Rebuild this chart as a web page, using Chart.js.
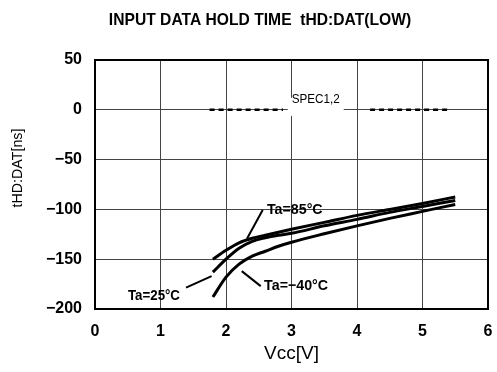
<!DOCTYPE html>
<html><head><meta charset="utf-8">
<script src="https://cdn.jsdelivr.net/npm/chart.js@4.4.1/dist/chart.umd.min.js"></script>
<style>html,body{margin:0;padding:0;background:#fff}#wrap{position:relative;width:497px;height:372px}</style>
</head><body><div id="wrap"><canvas id="c"></canvas></div>
<script>
// ---- data ----
const chartTitle = 'INPUT DATA HOLD TIME  tHD:DAT(LOW)';
const xTitle = 'Vcc[V]';
const yTitle = 'tHD:DAT[ns]';
const vcc  = [1.8, 2.0, 2.2, 2.4, 2.6, 2.8, 3.0, 3.5, 4.0, 4.5, 5.0, 5.5];
const t85  = [-150, -141, -133.5, -129, -126, -123, -120, -113, -106, -100, -94, -87.5];
const t25  = [-163, -150, -139, -132, -128.5, -126, -124, -116.5, -110, -103, -97, -91];
const tm40 = [-188, -168, -155, -147, -142, -137, -133, -124.5, -116.5, -109, -102, -95];
const specValue = 0;
const specSeg1 = [1.75, 2.87];
const specSeg2 = [4.2, 5.42];
const xTicks = [0, 1, 2, 3, 4, 5, 6];
const yTicks = [50, 0, -50, -100, -150, -200];
// annotation labels (data coordinates)
const noteText = ['SPEC1,2', 'Ta=85°C', 'Ta=\u221240°C', 'Ta=25°C'];
const noteX = [3.37, 3.05, 3.07, 0.9];
const noteY = [10, -100, -177, -187.5];
// leader lines [x0, y0, x1, y1] in data units
const lead85 = [2.56, -100.5, 2.32, -129.5];
const leadM40 = [2.24, -162, 2.53, -177];
const lead25 = [1.39, -178.5, 1.78, -167];

// ---- build ----
const pts = (xs, ys) => xs.map((v, i) => ({x: v, y: ys[i]}));
const seg = (a) => [{x: a[0], y: a[1]}, {x: a[2], y: a[3]}];
const curve = (label, ys) => ({label, data: pts(vcc, ys), borderColor: '#000', borderWidth: 3,
  pointRadius: 0, showLine: true, cubicInterpolationMode: 'monotone', fill: false});
const leader = (label, a) => ({label, data: seg(a), borderColor: '#000', borderWidth: 2,
  pointRadius: 0, showLine: true, fill: false});
const spec = (label, s) => ({label, data: [{x: s[0], y: specValue}, {x: s[1], y: specValue}],
  borderColor: '#000', borderWidth: 2.5, borderDash: [5, 4], pointRadius: 0, showLine: true, fill: false});

const FAM = '"Liberation Sans", Arial, sans-serif';
Chart.defaults.font.family = FAM;
Chart.defaults.color = '#000';

function drawText(ctx, txt, cx, cy, font, sx, rot) {
  ctx.save();
  ctx.translate(cx, cy);
  if (rot) ctx.rotate(rot);
  ctx.scale(sx, 1);
  ctx.font = font;
  ctx.fillStyle = '#000';
  ctx.textAlign = 'center';
  ctx.textBaseline = 'middle';
  ctx.fillText(txt, 0, 0);
  ctx.restore();
}

const textPlugin = {
  id: 'texts',
  afterDatasetsDraw(chart) {
    const {ctx, chartArea: a, scales: {x, y}} = chart;
    ctx.save();
    ctx.strokeStyle = '#000';
    ctx.lineWidth = 2;
    ctx.strokeRect(a.left, a.top, a.right - a.left, a.bottom - a.top);
    // chart title
    drawText(ctx, chartTitle, 260, 20, 'bold 17px ' + FAM, 0.92);
    // y axis title
    drawText(ctx, yTitle, 18, 168, '15px ' + FAM, 0.95, -Math.PI / 2);
    // annotations
    const fonts = ['13px ' + FAM, 'bold 15px ' + FAM, 'bold 15px ' + FAM, 'bold 14px ' + FAM];
    const sxs = [0.9, 0.95, 0.95, 0.95];
    noteText.forEach((t, i) => {
      const px = x.getPixelForValue(noteX[i]);
      const py = y.getPixelForValue(noteY[i]);
      if (i === 0) { // white gap behind spec label
        ctx.fillStyle = '#fff';
        ctx.fillRect(px - 28, py - 2, 56, 18);
      }
      drawText(ctx, t, px, py, fonts[i], sxs[i]);
    });
    ctx.restore();
  }
};

new Chart(document.getElementById('c'), {
  type: 'scatter',
  data: {
    datasets: [
      curve('Ta=85°C', t85),
      curve('Ta=25°C', t25),
      curve('Ta=-40°C', tm40),
      spec('SPEC1,2 a', specSeg1),
      spec('SPEC1,2 b', specSeg2),
      leader('lead 85', lead85),
      leader('lead -40', leadM40),
      leader('lead 25', lead25)
    ]
  },
  options: {
    responsive: true,
    maintainAspectRatio: false,
    animation: false,
    layout: {padding: {top: 60, right: 9, left: 0, bottom: 0}},
    plugins: {legend: {display: false}, tooltip: {enabled: false}, title: {display: false}},
    scales: {
      x: {
        type: 'linear', min: 0, max: 6,
        afterBuildTicks: s => { s.ticks = xTicks.map(v => ({value: v})); },
        afterFit: s => { s.height = 63; s.paddingLeft = 0; s.paddingRight = 0; },
        ticks: {font: {size: 16, weight: 'bold'}, padding: 13, color: '#000'},
        grid: {color: '#444', lineWidth: 1, drawTicks: false},
        border: {color: '#000', width: 2},
        title: {display: true, text: xTitle, font: {size: 19}, color: '#000', padding: {top: 0, bottom: 7}}
      },
      y: {
        type: 'linear', min: -200, max: 50,
        afterBuildTicks: s => { s.ticks = yTicks.map(v => ({value: v})); },
        afterFit: s => { s.width = 95; s.paddingTop = 0; s.paddingBottom = 0; },
        ticks: {font: {size: 16, weight: 'bold'}, padding: 13, color: '#000',
          callback: v => String(v).replace('-', '\u2212')},
        grid: {color: '#444', lineWidth: 1, drawTicks: false},
        border: {color: '#000', width: 2}
      }
    }
  },
  plugins: [textPlugin]
});
</script>
</body></html>
